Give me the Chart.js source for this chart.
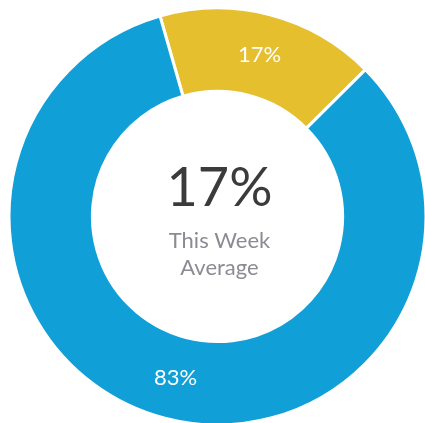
<!DOCTYPE html>
<html>
<head>
<meta charset="utf-8">
<script src="https://cdn.jsdelivr.net/npm/chart.js@4/dist/chart.umd.min.js"></script>
<style>
    html, body { margin: 0; padding: 0; background: #fff; overflow: hidden; }
    #wrap { width: 425px; height: 423px; overflow: hidden; }
    canvas { display: block; }
</style>
</head>
<body>
<div id="wrap">
    <canvas id="avgChart" width="435" height="433" style="width:435px;height:433px"></canvas>
</div>
<script>
// 資料
const categories = ['This Week', 'Other'];
const values = [17, 83];
const sliceColors = ['#E5BF2E', '#119FD8'];
const centerValue = '17%';
const centerCaption = ['This Week', 'Average'];

const fontFamily = 'Lato, "Open Sans", sans-serif';

// 每個扇形中間的百分比文字
const sliceLabels = {
    id: 'sliceLabels',
    afterDatasetsDraw(chart) {
        const ctx = chart.ctx;
        const meta = chart.getDatasetMeta(0);
        const total = values.reduce((a, b) => a + b, 0);
        ctx.save();
        ctx.fillStyle = '#ffffff';
        ctx.font = '22px ' + fontFamily;
        ctx.textAlign = 'center';
        ctx.textBaseline = 'middle';
        meta.data.forEach((arc, i) => {
            const pos = arc.tooltipPosition();
            ctx.fillText(Math.round(values[i] / total * 100) + '%', pos.x, pos.y);
        });
        ctx.restore();
    }
};

// 中間的大字
const centerText = {
    id: 'centerText',
    afterDraw(chart) {
        const ctx = chart.ctx;
        const arc = chart.getDatasetMeta(0).data[0];
        const cx = arc.x, cy = arc.y;
        ctx.save();
        ctx.textAlign = 'center';
        ctx.textBaseline = 'alphabetic';
        ctx.fillStyle = '#3b3b3b';
        ctx.font = '54px ' + fontFamily;
        ctx.fillText(centerValue, cx + 2, cy - 11);
        ctx.fillStyle = '#8a8c92';
        ctx.font = '22px ' + fontFamily;
        ctx.fillText(centerCaption[0], cx + 2, cy + 31);
        ctx.fillText(centerCaption[1], cx + 2, cy + 58);
        ctx.restore();
    }
};

new Chart(document.getElementById('avgChart'), {
    type: 'doughnut',
    data: {
        labels: categories,
        datasets: [{
            data: values,
            backgroundColor: sliceColors,
            borderColor: '#ffffff',
            borderWidth: 3,
            hoverOffset: 0,
        }]
    },
    options: {
        responsive: false,
        animation: false,
        cutout: '60%',
        rotation: -16,
        layout: { padding: 6.5 },
        plugins: {
            legend: { display: false },
            tooltip: { enabled: false },
        }
    },
    plugins: [sliceLabels, centerText]
});
</script>
</body>
</html>
